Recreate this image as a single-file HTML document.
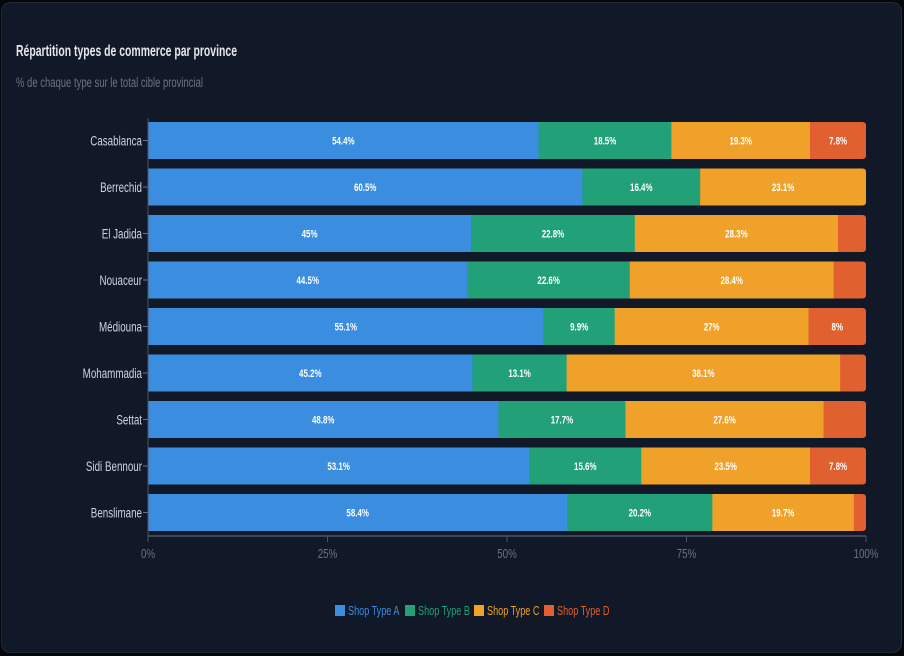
<!DOCTYPE html>
<html><head><meta charset="utf-8"><style>
html,body{margin:0;padding:0;background:#000;}
svg{display:block;}
text{font-family:"Liberation Sans",sans-serif;}
</style></head><body>
<svg width="904" height="656" viewBox="0 0 904 656" xmlns="http://www.w3.org/2000/svg">
<rect x="0" y="0" width="904" height="656" fill="#05070c"/>
<rect x="1.5" y="2.5" width="900" height="650" rx="9" fill="#111827" stroke="#1f2937" stroke-width="1"/>
<text x="16" y="56" font-size="16" font-weight="bold" fill="#e5e7eb" textLength="221" lengthAdjust="spacingAndGlyphs">Répartition types de commerce par province</text>
<text x="16" y="87" font-size="13.5" fill="#6b7280" textLength="187" lengthAdjust="spacingAndGlyphs">% de chaque type sur le total cible provincial</text>
<g id="bars"></g>
<!-- axes -->
<line x1="148" y1="118" x2="148" y2="536" stroke="#4b5563" stroke-width="1"/>
<line x1="148" y1="536" x2="866" y2="536" stroke="#4b5563" stroke-width="1.5"/>
<g stroke="#4b5563" stroke-width="1">
<line x1="148" y1="536" x2="148" y2="542"/>
<line x1="327.5" y1="536" x2="327.5" y2="542"/>
<line x1="507" y1="536" x2="507" y2="542"/>
<line x1="686.5" y1="536" x2="686.5" y2="542"/>
<line x1="866" y1="536" x2="866" y2="542"/>
</g>
<g fill="#6b7280" font-size="13" text-anchor="middle">
<text transform="translate(148,558) scale(0.75,1)">0%</text>
<text transform="translate(327.5,558) scale(0.75,1)">25%</text>
<text transform="translate(507,558) scale(0.75,1)">50%</text>
<text transform="translate(686.5,558) scale(0.75,1)">75%</text>
<text transform="translate(866,558) scale(0.75,1)">100%</text>
</g>
<!-- legend -->
<rect x="335" y="605" width="10" height="11" fill="#3b8de0"/>
<text transform="translate(348,615) scale(0.7,1)" font-size="13" fill="#3b8de0">Shop Type A</text>
<rect x="405" y="605" width="10" height="11" fill="#22a077"/>
<text transform="translate(418,615) scale(0.7,1)" font-size="13" fill="#22a077">Shop Type B</text>
<rect x="474" y="605" width="10" height="11" fill="#f0a12a"/>
<text transform="translate(487,615) scale(0.7,1)" font-size="13" fill="#f0a12a">Shop Type C</text>
<rect x="544" y="605" width="10" height="11" fill="#e0602f"/>
<text transform="translate(557,615) scale(0.7,1)" font-size="13" fill="#e0602f">Shop Type D</text>
</svg>
<script>
(function(){
var data=[
["Casablanca",[54.4,18.5,19.3,7.8]],
["Berrechid",[60.5,16.4,23.1,0]],
["El Jadida",[45,22.8,28.3,3.9]],
["Nouaceur",[44.5,22.6,28.4,4.5]],
["Médiouna",[55.1,9.9,27,8]],
["Mohammadia",[45.2,13.1,38.1,3.6]],
["Settat",[48.8,17.7,27.6,5.9]],
["Sidi Bennour",[53.1,15.6,23.5,7.8]],
["Benslimane",[58.4,20.2,19.7,1.7]]
];
var cols=["#3b8de0","#22a077","#f0a12a","#e0602f"];
var ns="http://www.w3.org/2000/svg";
var g=document.getElementById("bars");
var x0=148,W=718;
function el(t,a,txt){var e=document.createElementNS(ns,t);for(var k in a)e.setAttribute(k,a[k]);if(txt!==undefined)e.textContent=txt;g.appendChild(e);return e;}
data.forEach(function(r,i){
  var cy=140.5+46.5*i, h=37, top=cy-h/2;
  el("line",{x1:143,y1:cy,x2:148,y2:cy,stroke:"#6b7280","stroke-width":1});
  el("text",{transform:"translate(142,"+(cy+5)+") scale(0.7,1)","font-size":"14",fill:"#cbd5e1","text-anchor":"end"},r[0]);
  var acc=0;
  var vals=r[1];
  var lastIdx=0;for(var j=0;j<4;j++){if(vals[j]>0)lastIdx=j;}
  vals.forEach(function(v,j){
    if(v<=0)return;
    var xs=x0+W*acc/100, xe=x0+W*(acc+v)/100;
    if(j===lastIdx){
      var rr=3.5;
      var d="M"+xs+","+top+" H"+(xe-rr)+" Q"+xe+","+top+" "+xe+","+(top+rr)+" V"+(top+h-rr)+" Q"+xe+","+(top+h)+" "+(xe-rr)+","+(top+h)+" H"+xs+" Z";
      el("path",{d:d,fill:cols[j]});
    } else {
      el("rect",{x:xs,y:top,width:(xe-xs)+0.3,height:h,fill:cols[j]});
    }
    if(v>=7){
      el("text",{transform:"translate("+((xs+xe)/2)+","+(cy+4)+") scale(0.72,1)","font-size":"11","font-weight":"bold",fill:"#ffffff","text-anchor":"middle"},(Math.round(v*10)/10)+"%");
    }
    acc+=v;
  });
});
})();
</script>
</body></html>
